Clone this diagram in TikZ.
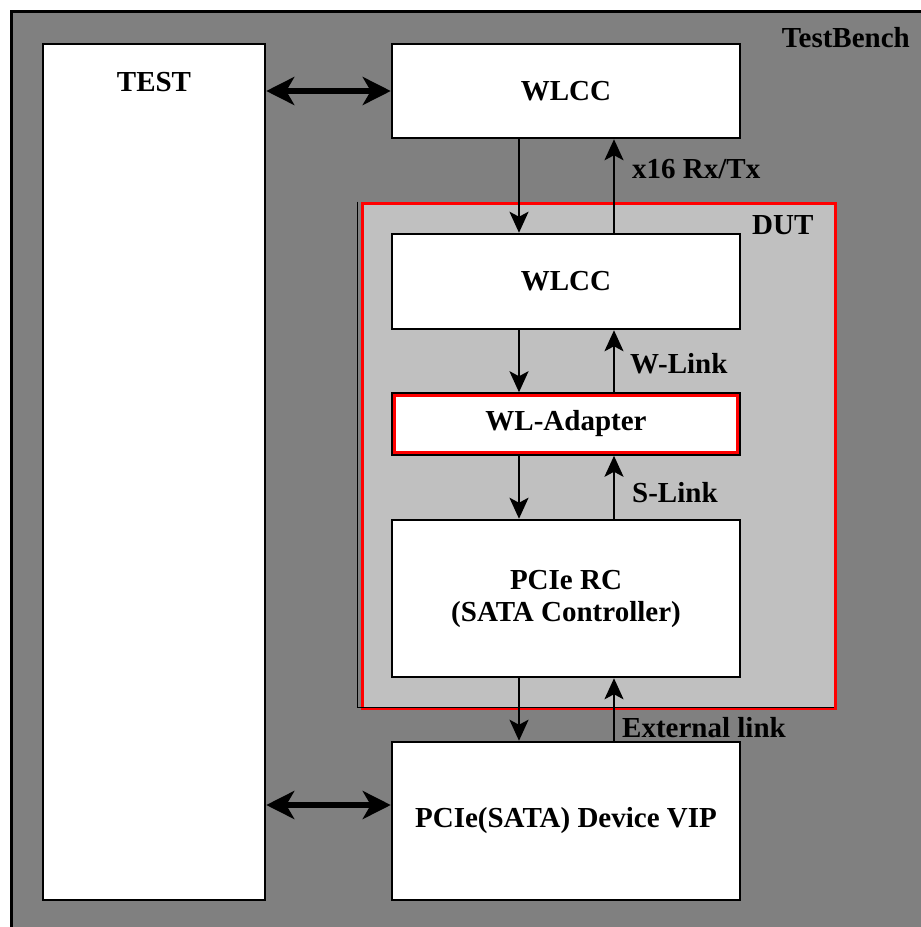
\documentclass[tikz,border=0pt]{standalone}
\usepackage{fontspec}
\setmainfont{Liberation Serif}
\usepackage{tikz}
\usetikzlibrary{arrows.meta,calc}
\definecolor{benchgray}{RGB}{128,128,128}
\definecolor{dutgray}{RGB}{192,192,192}
\tikzset{txt/.style={font=\fontsize{29pt}{32pt}\selectfont\bfseries, inner sep=0pt}}
\tikzset{whitebox/.style={draw, fill=white, rectangle, line width=2.5pt, txt, text centered, align=center, minimum width=348pt}}
\tikzset{dutbox/.style={draw=red, fill=dutgray, rectangle, line width=3pt, minimum width=473pt, minimum height=505pt}}
\tikzset{line/.style={draw, line width=2.5pt, -{Stealth[length=21pt, width=19pt, inset=5pt]}}}
\tikzset{bigline/.style={draw, line width=6pt, {Stealth[length=28pt, width=28pt, inset=8pt]}-{Stealth[length=28pt, width=28pt, inset=8pt]}}}

\begin{document}
\begin{tikzpicture}[x=1pt, y=-1pt]
		\path[use as bounding box, clip] (0,0) rectangle (921,927);
		\fill[white] (0,0) rectangle (921,927);
		
		% testbench
		\fill[benchgray] (11,11) rectangle (940,940);
		\draw[line width=3pt] (11,940) -- (11,11) -- (940,11);
		\node [txt, anchor=base east] (tbname) at (910,47) {TestBench};
		
		\node [whitebox, minimum width=222pt, minimum height=856pt] (test) at (154,472) {};
		\node [txt, anchor=base] (testname) at ([yshift=-49pt]test.north) {TEST};
		
		% DUT frame
		\node [dutbox] (dut) at (598.5,455.5) {};
		\draw [line width=1.2pt] ([xshift=-3pt]dut.north west) -- ([shift={(-3pt,2pt)}]dut.south west) -- ([shift={(-3pt,2pt)}]dut.south east);
		\node [txt, anchor=base west] (dutname) at (752,234) {DUT};
		
		\node [whitebox, minimum height=94pt] (wlcc_tb) at (566,91) {WLCC};
		\node [whitebox, below of=wlcc_tb, node distance =190.5pt, minimum height=95pt] (wlcc_dut) {WLCC};
		\node [whitebox, below of=wlcc_dut, node distance =142.5pt, minimum height=62pt, line width=1.5pt] (wla) {WL-Adapter};
		\draw [red, line width=3pt] ([shift={(3pt,-3pt)}]wla.north west) rectangle ([shift={(-3pt,3pt)}]wla.south east);
		\node [whitebox, below of=wla, node distance =174.5pt, minimum height=157pt] (rc) {PCIe RC\\(SATA Controller)};
		\node [whitebox, below of=rc, node distance =222.5pt, minimum height=158pt] (vip) {PCIe(SATA) Device VIP};
		
		\foreach \a/\b in {wlcc_tb/wlcc_dut, wlcc_dut/wla, wla/rc, rc/vip}{
			\path [line] ([xshift=-47pt]\a.south) -- ([xshift=-47pt]\b.north);
			\path [line] ([xshift=48pt]\b.north) -- ([xshift=48pt]\a.south);
		}
		
		\coordinate (viplink) at ([yshift=16pt]vip.west);
		\path [bigline] (test.east |- wlcc_tb.west) -- (wlcc_tb.west);
		\path [bigline] (test.east |- viplink) -- (viplink);
		
		%links
		\node [txt, anchor=base west] (rxtx) at (632,178) {x16 Rx/Tx};
		\node [txt, anchor=base west] (wlink) at (630,373) {W-Link};
		\node [txt, anchor=base west] (slink) at (632,502) {S-Link};
		\node [txt, anchor=base west] (extlink) at (622,737) {External link};
		
		\end{tikzpicture}
\end{document}
